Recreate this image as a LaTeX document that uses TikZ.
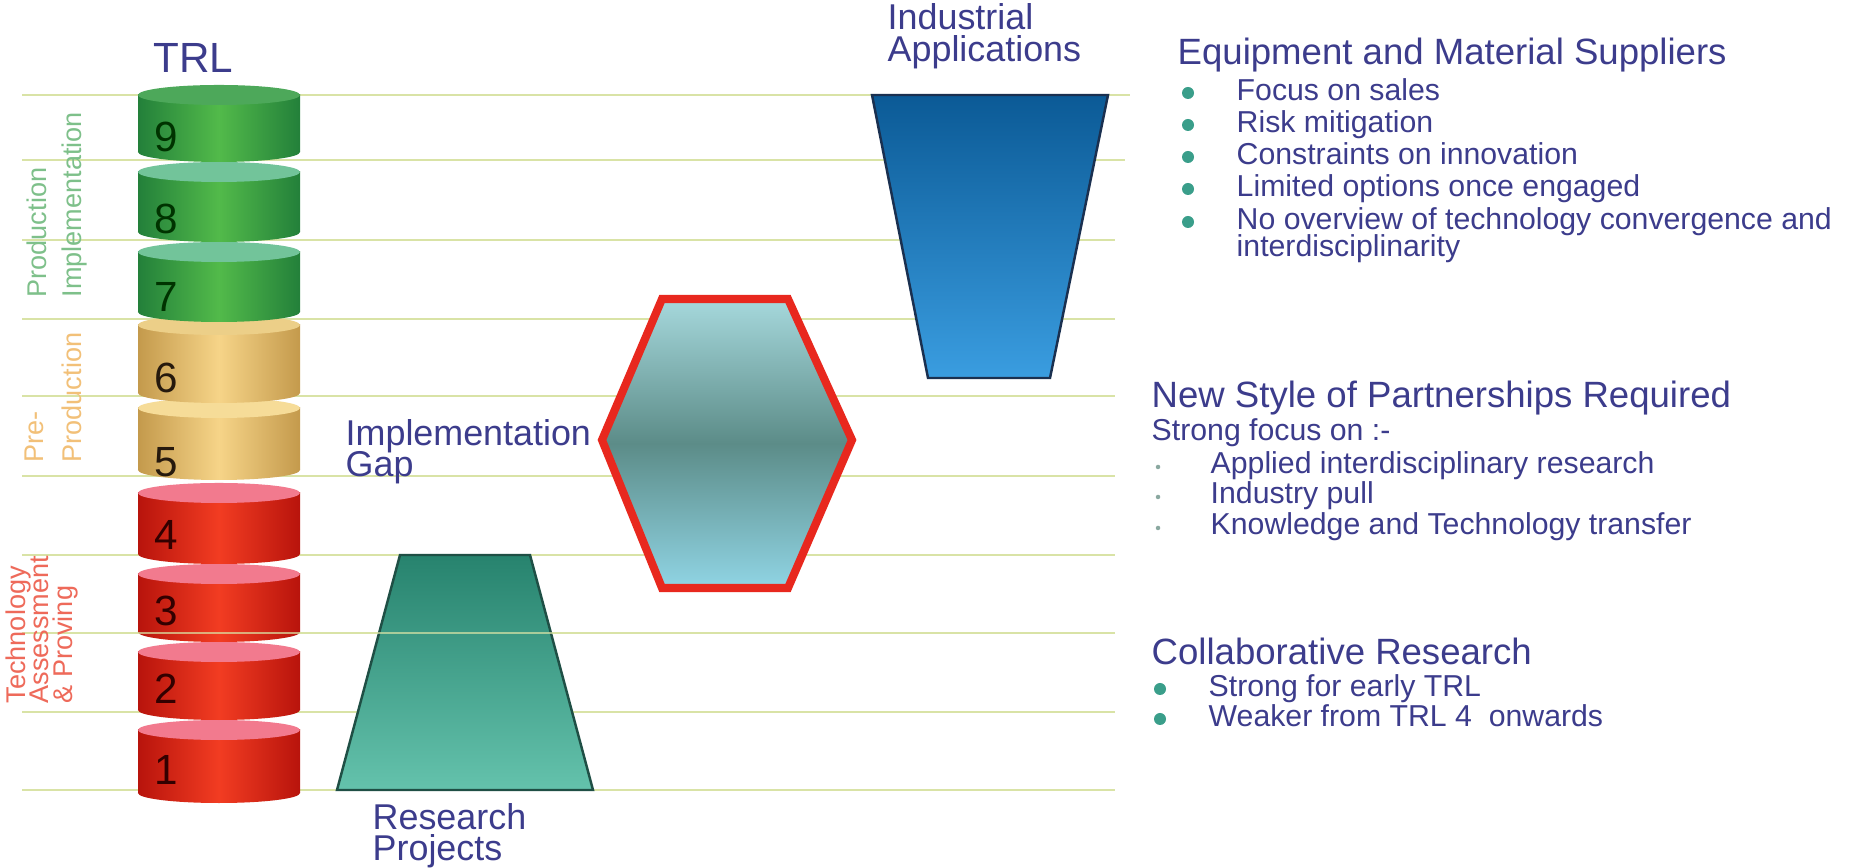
\documentclass[tikz,border=0pt]{standalone}
\usepackage{fontspec}
\setmainfont{Liberation Sans}
\definecolor{gridc}{HTML}{D9E3A6}
\definecolor{txtblue}{HTML}{3C3C8C}
\definecolor{dotc}{HTML}{3A9E8A}
\definecolor{sdotc}{HTML}{8AA8A0}
\definecolor{redE}{HTML}{B8140C}
\definecolor{redM}{HTML}{F23C22}
\definecolor{redT}{HTML}{F27A8E}
\definecolor{golE}{HTML}{C49A4C}
\definecolor{golM}{HTML}{F6D488}
\definecolor{golT}{HTML}{F6DC98}
\definecolor{golT6}{HTML}{ECCF88}
\definecolor{grnE}{HTML}{23803A}
\definecolor{grnM}{HTML}{52BA4A}
\definecolor{grnT}{HTML}{72C49A}
\definecolor{grnT9}{HTML}{4DA85A}
\definecolor{hexR}{HTML}{E8281E}
\definecolor{hexT}{HTML}{A6D8DC}
\definecolor{hexM}{HTML}{5C8C88}
\definecolor{hexB}{HTML}{90D4E4}
\definecolor{indT}{HTML}{0B5A96}
\definecolor{indB}{HTML}{3A9DE0}
\definecolor{indE}{HTML}{1A3050}
\definecolor{resT}{HTML}{27836E}
\definecolor{resB}{HTML}{64C2AC}
\definecolor{resE}{HTML}{1F4F45}
\definecolor{sideG}{HTML}{7EC08A}
\definecolor{sideO}{HTML}{F2C078}
\definecolor{sideR}{HTML}{EE6A5A}
\begin{document}
\begin{tikzpicture}[x=0.01cm,y=-0.01cm,
  gridline/.style={draw=gridc, line width=0.8pt},
  lbl/.style={text=txtblue, font=\fontsize{10.2}{12}\selectfont, inner sep=0pt, anchor=base west},
  head/.style={text=txtblue, font=\fontsize{10.4}{12}\selectfont, inner sep=0pt, anchor=base west},
  item/.style={text=txtblue, font=\fontsize{8.6}{10}\selectfont, inner sep=0pt, anchor=base west},
  bdot/.style={circle, fill=dotc, inner sep=0pt, minimum size=0.12cm},
  sdot/.style={circle, fill=sdotc, inner sep=0pt, minimum size=0.045cm},
  side/.style={rotate=90, anchor=base west, inner sep=0pt, font=\fontsize{7.7}{9}\selectfont},
  num/.style={font=\fontsize{12}{12}\selectfont, inner sep=0pt}]
\useasboundingbox[fill=white] (0,0) rectangle (1864,868);

% grid lines
\draw[gridline] (22,95) -- (1130,95);
\draw[gridline] (22,160) -- (1125,160);
\foreach \yy in {240,319,396,476,555,633,712,790}
  \draw[gridline] (22,\yy) -- (1115,\yy);

% TRL cylinder segments (bottom first)
\foreach \T/\B/\E/\M/\C/\n/\ny/\nc in {
  730/793/redE/redM/redT/1/770/black!80!red,
  652/710/redE/redM/redT/2/689/black!80!red,
  574/632/redE/redM/redT/3/611/black!80!red,
  493/554/redE/redM/redT/4/535/black!80!red,
  408/470/golE/golM/golT/5/462/black!80!brown,
  325/393/golE/golM/golT6/6/378/black!80!brown,
  252/312/grnE/grnM/grnT/7/297/black!80!green,
  172/232/grnE/grnM/grnT/8/219/black!80!green,
  95/152/grnE/grnM/grnT9/9/137/black!80!green}{
  \shade[left color=\E, right color=\E, middle color=\M] (219,\B) ellipse [x radius=0.81cm, y radius=0.1cm];
  \shade[left color=\E, right color=\E, middle color=\M] (138,\T) rectangle (300,\B);
  \fill[\C] (219,\T) ellipse [x radius=0.81cm, y radius=0.1cm];
  \node[num, text=\nc] (n\n) at (166,\ny) {\n};
}

% research projects trapezoid
\shade[top color=resT, bottom color=resB, draw=resE, line width=0.7pt]
  (400,555) -- (530,555) -- (593,790) -- (337,790) -- cycle;

% line 633 drawn over
\draw[gridline, opacity=0.7] (22,633) -- (1115,633);

% hexagon
\shade[top color=hexT, bottom color=hexB, middle color=hexM, draw=hexR, line width=2.3pt]
  (662,299) -- (788,299) -- (852,440) -- (788,588) -- (662,588) -- (602,440) -- cycle;

% industrial trapezoid
\shade[top color=indT, bottom color=indB, draw=indE, line width=0.7pt]
  (872,95) -- (1108,95) -- (1050,378) -- (928,378) -- cycle;

% labels
\node[text=txtblue, font=\fontsize{12}{12}\selectfont, inner sep=0pt, anchor=base west] (trl) at (153,73) {TRL};
\node[lbl] (ind1) at (887,30) {Industrial};
\node[lbl] (ind2) at (887,62) {Applications};
\node[lbl] (gap1) at (345,446) {Implementation};
\node[lbl] (gap2) at (345,477) {Gap};
\node[lbl] (rp1) at (372,830) {Research};
\node[lbl] (rp2) at (372,861) {Projects};

% side labels
\node[side, text=sideG] (pi1) at (47,298) {Production};
\node[side, text=sideG] (pi2) at (81,298) {Implementation};
\node[side, text=sideO] (pp1) at (44,463) {Pre-};
\node[side, text=sideO] (pp2) at (81,463) {Production};
\node[side, text=sideR] (ta1) at (25,704) {Technology};
\node[side, text=sideR] (ta2) at (48,704) {Assessment};
\node[side, text=sideR] (ta3) at (72,704) {\& Proving};

% Equipment and Material Suppliers
\node[head] (eqh) at (1177,65) {Equipment and Material Suppliers};
\foreach \yy/\t/\k in {101/Focus on sales/1, 133/Risk mitigation/2, 165/Constraints on innovation/3, 197/Limited options once engaged/4, 230/No overview of technology convergence and/5}{
  \node[bdot] (eqd\k) at (1188,\yy-8) {};
  \node[item] (eqi\k) at (1236,\yy) {\t};
}
\node[item] (eqi6) at (1236,257) {interdisciplinarity};

% New Style of Partnerships Required
\node[head] (nsh) at (1151,408) {New Style of Partnerships Required};
\node[item] (nsf) at (1151,441) {Strong focus on :-};
\foreach \yy/\t/\k in {474/Applied interdisciplinary research/1, 504/Industry pull/2, 535/Knowledge and Technology transfer/3}{
  \node[sdot] (nsd\k) at (1158,\yy-7) {};
  \node[item] (nsi\k) at (1210,\yy) {\t};
}

% Collaborative Research
\node[head] (crh) at (1151,665) {Collaborative Research};
\node[bdot] (crd1) at (1160,689) {};
\node[item] (cri1) at (1208,697) {Strong for early TRL};
\node[bdot] (crd2) at (1160,719) {};
\node[item] (cri2) at (1208,727) {Weaker from TRL 4~ onwards};
\end{tikzpicture}
\end{document}
